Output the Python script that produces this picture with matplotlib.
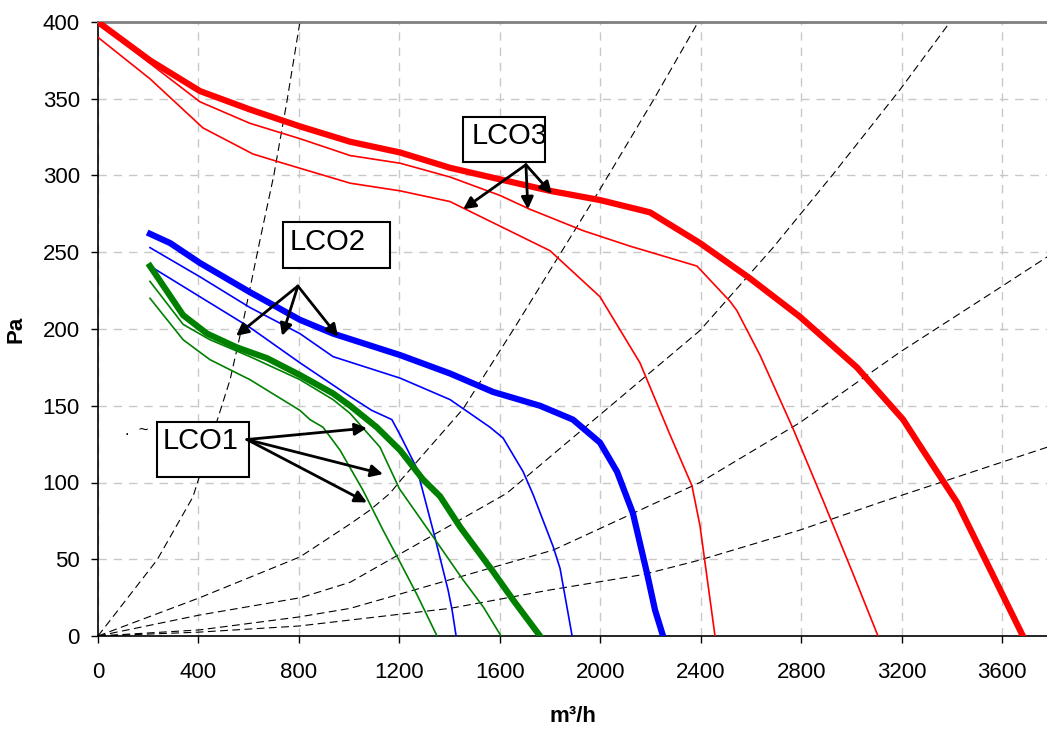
import matplotlib
matplotlib.use("Agg")
import matplotlib.pyplot as plt
from matplotlib.patches import Rectangle

plt.rcParams['font.family'] = ['Liberation Sans', 'DejaVu Sans']

# fan curves (m3/h, Pa)
r3_q = [0, 207, 406, 605, 804, 1004, 1203, 1402, 1561, 1800, 1999, 2198, 2397, 2596, 2795, 3022, 3206, 3273, 3421, 3683]
r3_p = [400, 375, 355, 343, 332, 322, 315, 305, 299, 290, 284, 276, 256, 233, 208, 175, 141, 124, 87, 0]
r2_q = [0, 207, 406, 605, 804, 1004, 1203, 1402, 1601, 1720, 1933, 2118, 2385, 2517, 2544, 2636, 2768, 2888, 3008, 3106]
r2_p = [400, 373, 348, 334, 324, 313, 308, 299, 287, 278, 264, 254, 241, 218, 212, 183, 135, 88, 40, 0]
r1_q = [0, 207, 418, 617, 737, 1004, 1203, 1402, 1601, 1800, 1999, 2158, 2278, 2365, 2397, 2457]
r1_p = [390, 363, 331, 314, 308, 295, 290, 283, 267, 251, 221, 178, 131, 98, 72, 0]

b3_q = [207, 287, 406, 605, 804, 936, 1203, 1402, 1573, 1760, 1891, 1999, 2067, 2130, 2186, 2218, 2250]
b3_p = [262, 256, 243, 224, 206, 197, 183, 171, 159, 150, 141, 126, 107, 80, 41, 17, 0]
b2_q = [207, 406, 605, 804, 936, 1203, 1402, 1561, 1613, 1693, 1733, 1813, 1840, 1888]
b2_p = [253, 234, 214, 197, 182, 168, 154, 136, 129, 107, 92, 58, 44, 0]
b1_q = [207, 406, 605, 804, 1004, 1090, 1170, 1203, 1270, 1342, 1394, 1410, 1426]
b1_p = [241, 221, 201, 178, 156, 147, 141, 131, 109, 64, 30, 17, 0]

g3_q = [207, 339, 434, 553, 673, 804, 936, 1004, 1110, 1203, 1294, 1362, 1442, 1573, 1653, 1760]
g3_p = [241, 209, 197, 188, 181, 170, 158, 150, 136, 121, 102, 91, 71, 42, 23.5, 0]
g2_q = [207, 339, 446, 605, 804, 936, 1004, 1123, 1200, 1350, 1454, 1534, 1605]
g2_p = [231, 203, 193, 182, 167, 154, 145, 123, 96, 61, 36.5, 19, 0]
g1_q = [207, 339, 446, 605, 804, 844, 896, 964, 1055, 1135, 1203, 1270, 1350]
g1_p = [220, 193, 180, 167, 147, 141, 136, 121, 95, 69, 48, 27, 0]

# system resistance curves
d1_q = [0, 235, 378, 526, 577, 645, 700, 752, 804]
d1_p = [0, 49.5, 90.6, 167, 204, 258, 300, 348, 400]
d2_q = [0, 406, 804, 1004, 1083, 1163, 1203, 1454, 1667, 1867, 1999, 2211, 2390]
d2_p = [0, 25, 51.5, 73, 82, 93, 101, 148, 203, 256, 291, 349, 400]
d3_q = [0, 406, 808, 1004, 1628, 2397, 2688, 2928, 3194, 3393]
d3_p = [0, 13.7, 25, 35, 93, 199, 253, 301, 356, 400]
d4_q = [0, 406, 800, 1004, 1813, 2397, 2795, 3194, 3592, 3780]
d4_p = [0, 4, 12.4, 18, 56, 100, 139, 185, 227, 247]
d5_q = [0, 400, 800, 1004, 1402, 1800, 2170, 2397, 2795, 3114, 3780]
d5_p = [0, 2.5, 6.5, 10.4, 18, 30, 40, 49.5, 69, 87, 123]

x_ticks = [0, 400, 800, 1200, 1600, 2000, 2400, 2800, 3200, 3600]
y_ticks = [0, 50, 100, 150, 200, 250, 300, 350, 400]

fig = plt.figure(figsize=(10.47, 7.31), dpi=100)
ax = fig.add_axes([98 / 1047, 95 / 731, 949 / 1047, 614 / 731])

for q, p in [(d1_q, d1_p), (d2_q, d2_p), (d3_q, d3_p), (d4_q, d4_p), (d5_q, d5_p)]:
    ax.plot(q, p, color='black', lw=0.8, dashes=(7, 4), zorder=2)

ax.plot(r1_q, r1_p, color='#ff0000', lw=1.2, zorder=3)
ax.plot(r2_q, r2_p, color='#ff0000', lw=1.2, zorder=3)
ax.plot(r3_q, r3_p, color='#ff0000', lw=4.5, zorder=4)
ax.plot(b1_q, b1_p, color='#0000ff', lw=1.2, zorder=3)
ax.plot(b2_q, b2_p, color='#0000ff', lw=1.2, zorder=3)
ax.plot(b3_q, b3_p, color='#0000ff', lw=4.5, zorder=4)
ax.plot(g1_q, g1_p, color='#008000', lw=1.2, zorder=3)
ax.plot(g2_q, g2_p, color='#008000', lw=1.2, zorder=3)
ax.plot(g3_q, g3_p, color='#008000', lw=4.5, zorder=4)

ax.set_xlim(0, 3779)
ax.set_ylim(0, 400)
ax.set_xticks(x_ticks)
ax.set_yticks(y_ticks)
ax.grid(True, color='#c8c8c8', lw=1, dashes=(6, 5))
ax.set_axisbelow(True)
ax.tick_params(axis='both', labelsize=16, length=5, width=1, direction='out')
ax.tick_params(axis='x', pad=14)
ax.tick_params(axis='y', pad=8)
ax.spines['right'].set_visible(False)
ax.spines['top'].set_color('#808080')
ax.spines['top'].set_linewidth(2)
ax.spines['left'].set_linewidth(1.2)
ax.spines['bottom'].set_linewidth(1.2)

ax.set_xlabel('m³/h', fontsize=16, fontweight='bold', labelpad=16)
ax.set_ylabel('Pa', fontsize=16, fontweight='bold', labelpad=12)

# annotation boxes (Excel style text boxes)
boxes = [
    ('LCO3', 1453, 309, 327, 29, 1489, 326, (1704, 307), [(1454, 278), (1712, 278), (1808, 288)]),
    ('LCO2', 737, 240, 426, 30, 765, 257, (796, 228), [(550, 195.5), (733, 195.5), (956, 195)]),
    ('LCO1', 235, 103.6, 366, 35.8, 259, 127, (593, 128), [(1071, 135.5), (1135, 105.5), (1071, 87)]),
]
for label, bx, by, bw, bh, tx, ty, tail, heads in boxes:
    ax.add_patch(Rectangle((bx, by), bw, bh, facecolor='white', edgecolor='black', lw=1.5, zorder=6))
    ax.text(tx, ty, label, fontsize=21, va='center', ha='left', zorder=7)
    for h in heads:
        ax.annotate('', xy=h, xytext=tail,
                    arrowprops=dict(arrowstyle='-|>', color='black', lw=2, mutation_scale=18,
                                    shrinkA=0, shrinkB=0), zorder=8)

ax.text(107, 134, '.  ~', fontsize=12, va='center', ha='left', zorder=7)

fig.savefig('out.png', dpi=100)
